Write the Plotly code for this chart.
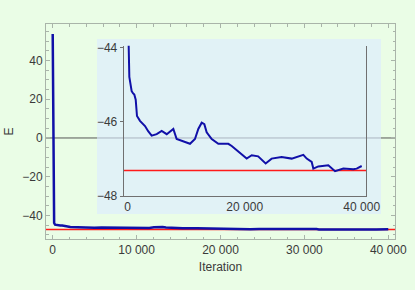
import plotly.graph_objects as go

# ---- data ----
iterations = [0, 40, 80, 120, 170, 280, 450, 680, 900, 1130, 1370, 1590, 2100, 2960,
              3500, 4100, 4960, 5810, 6670, 7800, 8370, 9800, 10650, 11500, 12070,
              12650, 13100, 13500, 14360, 15490, 17200, 17780, 19480, 20340, 21200,
              22300, 23580, 24600, 26300, 28030, 30020, 30600, 31450, 31730, 32580,
              34290, 35440, 36860, 38570, 39140, 40000]
energy = [53.7, 20.0, -20.0, -40.0, -43.95, -44.78, -45.00, -45.17, -45.22, -45.26,
          -45.40, -45.84, -45.97, -46.11, -46.25, -46.37, -46.33, -46.24, -46.33,
          -46.19, -46.46, -46.55, -46.59, -46.46, -46.19, -46.02, -46.06, -46.28,
          -46.46, -46.59, -46.59, -46.65, -46.86, -46.99, -46.90, -46.93, -47.12,
          -46.99, -46.95, -46.99, -46.89, -46.99, -47.08, -47.26, -47.20, -47.17,
          -47.33, -47.26, -47.28, -47.26, -47.19]
exact_energy = -47.31

main_xticks = [0, 10000, 20000, 30000, 40000]
main_xticklabels = ["0", "10 000", "20 000", "30 000", "40 000"]
main_yticks = [-40, -20, 0, 20, 40]
inset_xticks = [0, 20000, 40000]
inset_xticklabels = ["0", "20 000", "40 000"]
inset_yticks = [-48, -46, -44]

main_xrange = [-800, 40800]
main_yrange = [-52.2, 58.9]
inset_xrange = [-684, 40786]
inset_yrange = [-48.0, -43.94]

BLUE = "#1010a8"
RED = "#ff1a1a"
FRAME = "#a9b4a9"
TXT = "#3a3a3a"
FONT = "Liberation Sans, Arial, sans-serif"

fig = go.Figure()
# main plot
fig.add_trace(go.Scatter(x=main_xrange, y=[exact_energy, exact_energy], mode="lines",
                         line=dict(color=RED, width=1.6), xaxis="x", yaxis="y",
                         hoverinfo="skip", showlegend=False))
fig.add_trace(go.Scatter(x=iterations, y=energy, mode="lines",
                         line=dict(color=BLUE, width=2.5), xaxis="x", yaxis="y",
                         showlegend=False))
# inset
fig.add_trace(go.Scatter(x=inset_xrange, y=[exact_energy, exact_energy], mode="lines",
                         line=dict(color=RED, width=1.6), xaxis="x2", yaxis="y2",
                         hoverinfo="skip", showlegend=False))
fig.add_trace(go.Scatter(x=iterations, y=energy, mode="lines",
                         line=dict(color=BLUE, width=2), xaxis="x2", yaxis="y2",
                         showlegend=False))

fig.update_layout(
    width=415, height=290,
    margin=dict(l=46, r=20, t=24, b=51, autoexpand=False),
    paper_bgcolor="#eafde6",
    plot_bgcolor="rgba(0,0,0,0)",
    font=dict(family=FONT, size=12, color=TXT),
    xaxis=dict(domain=[0, 1], range=main_xrange, tickvals=main_xticks,
               ticktext=main_xticklabels, showline=True, linecolor=FRAME,
               linewidth=1, mirror="ticks", ticks="inside", ticklen=4,
               tickcolor=FRAME, showgrid=False, zeroline=False, automargin=False,
               minor=dict(dtick=2000, ticklen=2.5, tickcolor=FRAME, ticks="inside",
                          showgrid=False),
               title=dict(text="Iteration", standoff=6, font=dict(size=12))),
    yaxis=dict(domain=[0, 1], range=main_yrange, tickvals=main_yticks,
               showline=True, linecolor=FRAME, linewidth=1, mirror="ticks",
               ticks="inside", ticklen=4, tickcolor=FRAME, showgrid=False,
               zeroline=False, automargin=False,
               minor=dict(dtick=5, ticklen=2.5, tickcolor=FRAME, ticks="inside",
                          showgrid=False),
               title=dict(text="E", standoff=6, font=dict(size=12))),
    xaxis2=dict(domain=[0.2226, 0.9178], anchor="y2", range=inset_xrange,
                tickvals=inset_xticks, ticktext=inset_xticklabels,
                showline=True, linecolor="#707070", linewidth=1, ticks="",
                showgrid=False, zeroline=False, automargin=False),
    yaxis2=dict(domain=[0.2000, 0.8991], anchor="x2", range=inset_yrange,
                tickvals=inset_yticks, showline=True, linecolor="#707070",
                linewidth=1, mirror=True, ticks="outside", ticklen=3,
                tickcolor="#707070", showgrid=False, zeroline=False,
                automargin=False),
    shapes=[
        dict(type="line", xref="x domain", yref="y", x0=0, x1=1, y0=0, y1=0,
             line=dict(color="#555555", width=1), layer="below"),
        dict(type="rect", xref="paper", yref="paper", x0=0.1461, x1=0.9599,
             y0=0.1163, y1=0.9302, fillcolor="rgba(220,236,255,0.63)",
             line=dict(width=0), layer="below"),
    ],
)

fig.write_html("out.html", config={"displayModeBar": False},
               post_script="document.body.style.margin='0';document.body.style.overflow='hidden';")
